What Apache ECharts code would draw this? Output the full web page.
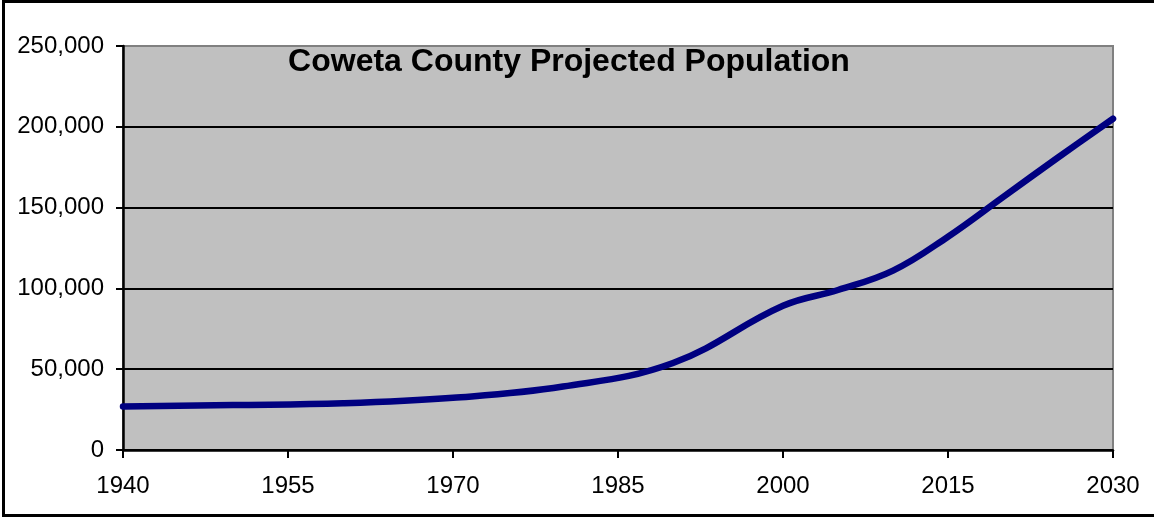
<!DOCTYPE html>
<html>
<head>
<meta charset="utf-8">
<title>Coweta County Projected Population</title>
<script src="https://cdn.jsdelivr.net/npm/echarts@6/dist/echarts.min.js"></script>
<style>
  html, body { margin: 0; padding: 0; background: #ffffff; }
  #chart { width: 1154px; height: 517px; }
</style>
</head>
<body>
<div id="chart"></div>
<script>
// Census counts and projections for Coweta County
const years = [1940, 1950, 1960, 1970, 1980, 1990, 2000, 2005, 2010, 2015, 2020, 2025, 2030];
const population = [26972, 27786, 28893, 32310, 39268, 53853, 89215, 99000, 111000, 132000, 156500, 181000, 205000];

const chartTitle = 'Coweta County Projected Population';
const yearAxis = { min: 1940, max: 2030, step: 15 };
const popAxis = { min: 0, max: 250000, step: 50000 };

const font = '"Liberation Sans", Arial, sans-serif';

const chart = echarts.init(document.getElementById('chart'), null, { renderer: 'canvas' });

chart.setOption({
  animation: false,
  backgroundColor: '#ffffff',
  grid: {
    left: 123, right: 41, top: 46, bottom: 67,
    show: true,
    backgroundColor: '#C0C0C0',
    borderColor: '#808080',
    borderWidth: 2
  },
  graphic: [
    {
      type: 'rect',
      shape: { x: 3.5, y: 1.5, width: 1200, height: 514 },
      style: { fill: 'none', stroke: '#000000', lineWidth: 3 },
      silent: true,
      z: 100
    },
    {
      type: 'text',
      x: 569,
      y: 62.5,
      style: {
        text: chartTitle,
        fontFamily: font,
        fontSize: 32,
        fontWeight: 'bold',
        fill: '#000000',
        align: 'center',
        verticalAlign: 'middle'
      },
      z: 100
    }
  ],
  xAxis: {
    type: 'value',
    min: yearAxis.min,
    max: yearAxis.max,
    interval: yearAxis.step,
    axisLine: { show: true, onZero: false, lineStyle: { color: '#000000', width: 2.5 } },
    axisTick: { show: true, length: 8, lineStyle: { color: '#000000', width: 2 } },
    axisLabel: {
      margin: 24,
      fontFamily: font,
      fontSize: 24,
      color: '#000000',
      formatter: v => String(v)
    },
    splitLine: { show: false }
  },
  yAxis: {
    type: 'value',
    min: popAxis.min,
    max: popAxis.max,
    interval: popAxis.step,
    axisLine: { show: true, lineStyle: { color: '#000000', width: 2.5 } },
    axisTick: { show: true, length: 7, lineStyle: { color: '#000000', width: 2 } },
    axisLabel: {
      margin: 19,
      fontFamily: font,
      fontSize: 24,
      color: '#000000',
      formatter: v => v.toLocaleString('en-US')
    },
    splitLine: {
      show: true,
      lineStyle: { color: ['#000000', '#000000', '#000000', '#000000', '#000000', '#808080'], width: 2 }
    }
  },
  series: [
    {
      type: 'line',
      data: years.map((y, i) => [y, population[i]]),
      smooth: 0.4,
      showSymbol: false,
      symbol: 'none',
      lineStyle: { color: '#000080', width: 6.5, cap: 'round', join: 'round' },
      z: 5
    }
  ]
});
</script>
</body>
</html>
